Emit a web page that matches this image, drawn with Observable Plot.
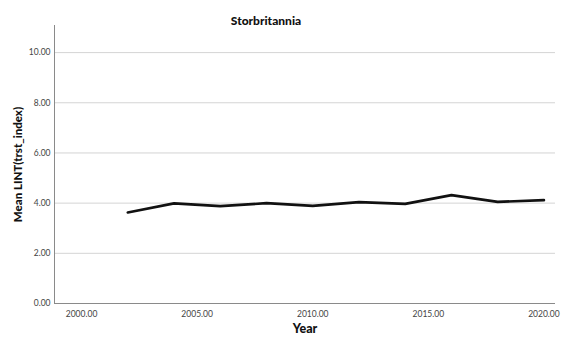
<!DOCTYPE html>
<html>
<head>
<meta charset="utf-8">
<script src="https://cdn.jsdelivr.net/npm/d3@7"></script>
<script src="https://cdn.jsdelivr.net/npm/@observablehq/plot@0.6"></script>
<style>
  html, body { margin: 0; padding: 0; background: #fff; }
  #chart svg { display: block; }
</style>
</head>
<body>
<div id="chart"></div>
<script>
const years = [2002, 2004, 2006, 2008, 2010, 2012, 2014, 2016, 2018, 2020];
const meanTrust = [3.63, 3.99, 3.88, 4.00, 3.89, 4.04, 3.97, 4.32, 4.05, 4.12];
const xTicks = [2000, 2005, 2010, 2015, 2020];
const yTicks = [0, 2, 4, 6, 8, 10];
const title = "Storbritannia";
const xLabel = "Year";
const yLabel = "Mean LINT(trst_index)";

const data = years.map((y, i) => ({year: y, value: meanTrust[i]}));
const fmt = d3.format(".2f");
const font = "Lato, 'DejaVu Sans', sans-serif";

const chart = Plot.plot({
  width: 566,
  height: 342,
  marginLeft: 54,
  marginRight: 11,
  marginTop: 25,
  marginBottom: 39,
  style: {fontFamily: font, fontSize: "8.5px", color: "#333", background: "#fff"},
  x: {domain: [1998.83, 2020.5]},
  y: {domain: [0, 11.08]},
  marks: [
    Plot.gridY(yTicks, {stroke: "#d4d4d4", strokeOpacity: 1, strokeWidth: 1}),
    Plot.axisY(yTicks, {tickSize: 0, tickPadding: 4, tickFormat: fmt, label: null, fontSize: 8.5, fill: "#444"}),
    Plot.axisX(xTicks, {tickSize: 0, tickPadding: 7, tickFormat: fmt, label: null, fontSize: 8.5, fill: "#444"}),
    Plot.ruleX([1998.83], {stroke: "#8a8a8a", strokeWidth: 1}),
    Plot.ruleY([0], {stroke: "#8a8a8a", strokeWidth: 1}),
    Plot.lineY(data, {x: "year", y: "value", stroke: "#111", strokeWidth: 2.6}),
    Plot.text([title], {frameAnchor: "top", dx: -39, dy: -9, fontWeight: "900", fontSize: 12, fill: "#111"}),
    Plot.text([xLabel], {frameAnchor: "bottom", dy: 29, fontWeight: "900", fontSize: 12.5, fill: "#111"}),
    Plot.text([yLabel], {frameAnchor: "left", textAnchor: "middle", dx: -36, rotate: -90, fontWeight: "900", fontSize: 11.5, fill: "#111"})
  ]
});
document.getElementById("chart").append(chart);
</script>
</body>
</html>
